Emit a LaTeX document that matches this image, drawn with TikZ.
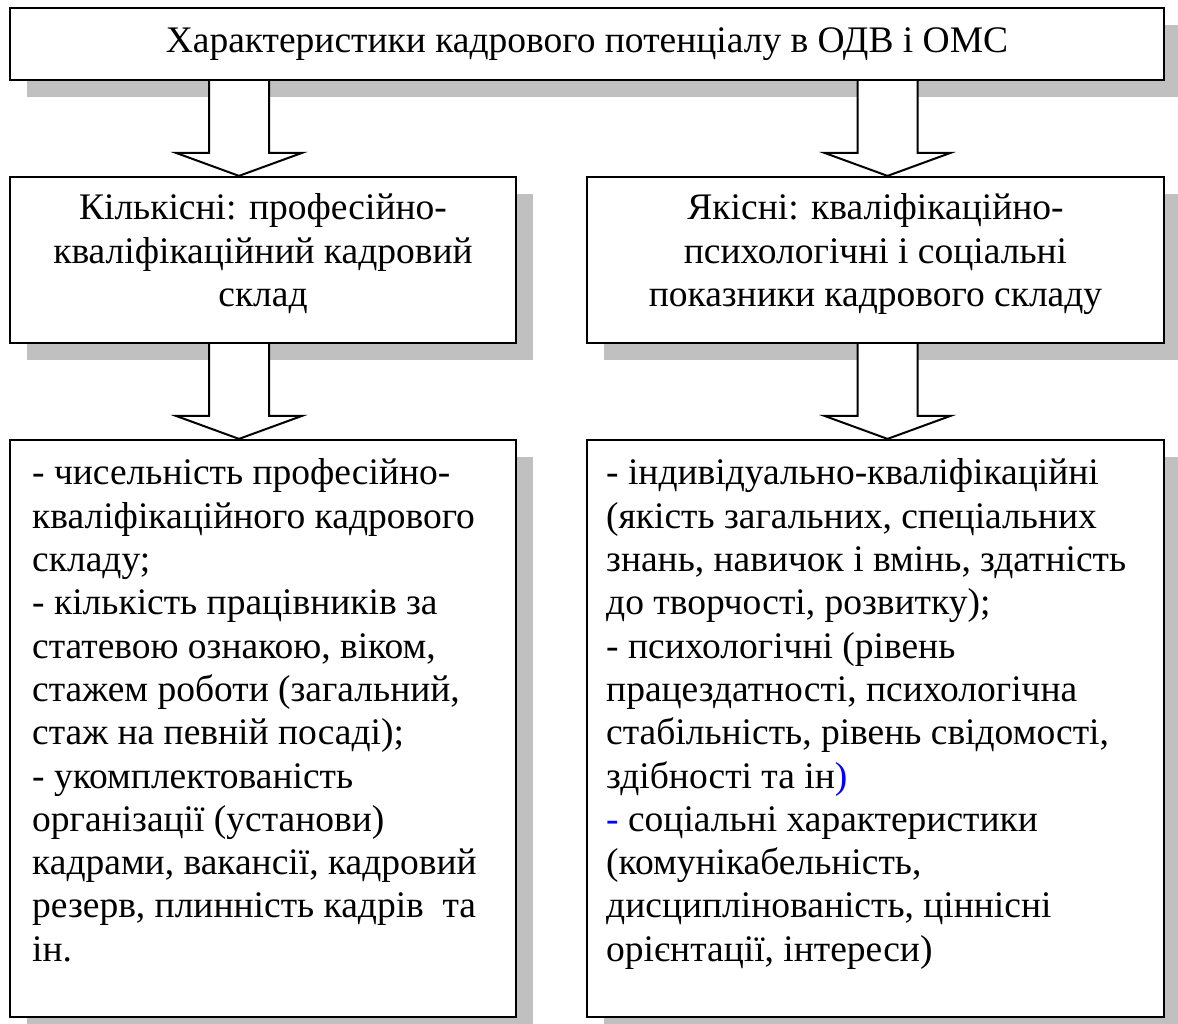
\documentclass[tikz,border=0pt]{standalone}
\usepackage{fontspec}
\setmainfont{Liberation Serif}
\usetikzlibrary{shadows,calc}
\definecolor{shadowgray}{RGB}{192,192,192}
\definecolor{markblue}{RGB}{0,0,255}

\tikzset{
  box/.style={draw, line width=2.2pt, fill=white, inner sep=0pt,
    drop shadow={shadow xshift=17pt, shadow yshift=-17pt, fill=shadowgray, opacity=1}},
  txt/.style={inner sep=0pt, font=\fontsize{37.5}{43.3}\selectfont},
  blockarrow/.style={draw, fill=white, line width=2pt, line join=miter}
}

% hollow downward block arrow at abscissa #1 from node #2 to node #3
\newcommand\blockarrowdown[3]{%
  \draw[blockarrow] let \p1=(#2.south), \p2=(#3.north) in
    ({#1pt-30pt},\y1) -- ({#1pt-30pt},{\y2+23pt}) -- ({#1pt-63pt},{\y2+23pt})
    -- (#1pt,\y2) -- ({#1pt+63pt},{\y2+23pt}) -- ({#1pt+30pt},{\y2+23pt})
    -- ({#1pt+30pt},\y1);}

\begin{document}
\begin{tikzpicture}[x=1pt, y=1pt]
  \useasboundingbox (0,0) rectangle (1178,1023);

  % boxes
  \node[box, minimum width=1154pt, minimum height=72pt]  (top) at (587,979) {};
  \node[box, minimum width=506pt,  minimum height=166pt] (kl)  at (263,763) {};
  \node[box, minimum width=577pt,  minimum height=166pt] (ya)  at (875.5,763) {};
  \node[box, minimum width=506pt,  minimum height=577pt] (kld) at (263,294.5) {};
  \node[box, minimum width=577pt,  minimum height=577pt] (yad) at (875.5,294.5) {};

  % arrows
  \blockarrowdown{239}{top}{kl}
  \blockarrowdown{887.5}{top}{ya}
  \blockarrowdown{239}{kl}{kld}
  \blockarrowdown{887.5}{ya}{yad}

  % texts
  \node[txt, anchor=base] (toptext) at (587,970)
    {Характеристики кадрового потенціалу в ОДВ і ОМС};

  \node[txt, anchor=base] (kltext) at (263,803)
    {\parbox[t]{500pt}{\centering Кількісні: професійно-\\кваліфікаційний кадровий\\склад}};
  \node[txt, anchor=base] (yatext) at (875.5,803)
    {\parbox[t]{570pt}{\centering Якісні: кваліфікаційно-\\психологічні і соціальні\\показники кадрового складу}};

  \node[txt, anchor=base west] (kldtext) at (32,538)
    {\parbox[t]{480pt}{\raggedright
      - чисельність професійно-\\
      кваліфікаційного кадрового\\
      складу;\\
      - кількість працівників за\\
      статевою ознакою, віком,\\
      стажем роботи (загальний,\\
      стаж на певній посаді);\\
      - укомплектованість\\
      організації (установи)\\
      кадрами, вакансії, кадровий\\
      резерв, плинність кадрів\ \ та\\
      ін.}};

  \node[txt, anchor=base west] (yadtext) at (606,538)
    {\parbox[t]{555pt}{\raggedright
      - індивідуально-кваліфікаційні\\
      (якість загальних, спеціальних\\
      знань, навичок і вмінь, здатність\\
      до творчості, розвитку);\\
      - психологічні (рівень\\
      працездатності, психологічна\\
      стабільність, рівень свідомості,\\
      здібності та ін{\color{markblue})}\\
      {\color{markblue}-} соціальні характеристики\\
      (комунікабельність,\\
      дисциплінованість, ціннісні\\
      орієнтації, інтереси)}};
\end{tikzpicture}
\end{document}
